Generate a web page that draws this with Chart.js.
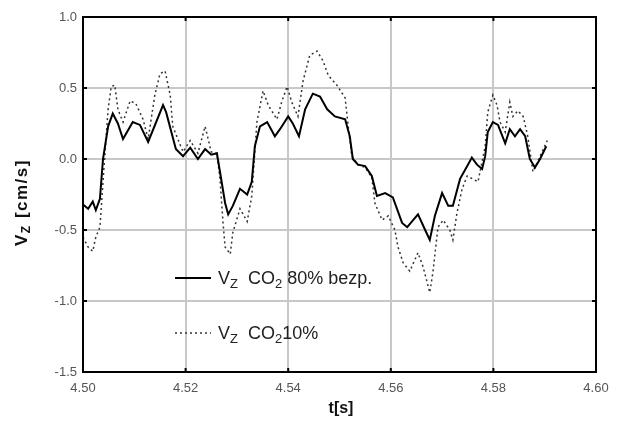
<!DOCTYPE html>
<html>
<head>
<meta charset="utf-8">
<script src="https://cdn.jsdelivr.net/npm/chart.js@4"></script>
<style>
  html, body { margin: 0; padding: 0; background: #fff; }
  #wrap { width: 623px; height: 422px; position: relative; }
</style>
</head>
<body>
<div id="wrap"><canvas id="chart"></canvas></div>
<script>
const tBezp = [4.5000, 4.5010, 4.5019, 4.5025, 4.5033, 4.5039, 4.5049, 4.5058, 4.5068, 4.5078,
  4.5097, 4.5111, 4.5127, 4.5156, 4.5162, 4.5181, 4.5195, 4.5209, 4.5224, 4.5238,
  4.5250, 4.5261, 4.5267, 4.5277, 4.5283, 4.5292, 4.5306, 4.5320, 4.5329, 4.5335,
  4.5345, 4.5359, 4.5374, 4.5384, 4.5400, 4.5409, 4.5421, 4.5433, 4.5448, 4.5462,
  4.5476, 4.5491, 4.5511, 4.5520, 4.5526, 4.5536, 4.5550, 4.5563, 4.5573, 4.5589,
  4.5604, 4.5622, 4.5632, 4.5653, 4.5667, 4.5676, 4.5686, 4.5700, 4.5712, 4.5721,
  4.5735, 4.5749, 4.5758, 4.5768, 4.5778, 4.5784, 4.5789, 4.5799, 4.5809, 4.5823,
  4.5832, 4.5842, 4.5852, 4.5862, 4.5871, 4.5881, 4.5891, 4.5903];
const vzBezp = [-0.32, -0.35, -0.30, -0.36, -0.28, 0.00, 0.23, 0.32, 0.25, 0.14,
  0.26, 0.24, 0.12, 0.38, 0.33, 0.07, 0.02, 0.08, 0.00, 0.07,
  0.03, 0.04, -0.09, -0.31, -0.39, -0.33, -0.21, -0.25, -0.16, 0.09,
  0.23, 0.26, 0.16, 0.21, 0.30, 0.25, 0.16, 0.35, 0.46, 0.44,
  0.35, 0.30, 0.28, 0.16, 0.00, -0.04, -0.05, -0.12, -0.26, -0.24,
  -0.27, -0.45, -0.48, -0.39, -0.50, -0.57, -0.40, -0.24, -0.33, -0.33,
  -0.14, -0.05, 0.01, -0.04, -0.07, 0.02, 0.19, 0.26, 0.24, 0.11,
  0.21, 0.16, 0.21, 0.16, 0.00, -0.06, 0.00, 0.09];

const t10 = [4.5000, 4.5010, 4.5019, 4.5025, 4.5033, 4.5043, 4.5049, 4.5055, 4.5062, 4.5068,
  4.5078, 4.5092, 4.5103, 4.5117, 4.5127, 4.5140, 4.5150, 4.5160, 4.5170, 4.5175,
  4.5195, 4.5209, 4.5224, 4.5238, 4.5250, 4.5261, 4.5267, 4.5273, 4.5277, 4.5287,
  4.5292, 4.5306, 4.5320, 4.5329, 4.5339, 4.5351, 4.5361, 4.5378, 4.5388, 4.5398,
  4.5407, 4.5419, 4.5429, 4.5442, 4.5456, 4.5468, 4.5478, 4.5495, 4.5511, 4.5517,
  4.5524, 4.5536, 4.5550, 4.5563, 4.5569, 4.5583, 4.5595, 4.5608, 4.5614, 4.5624,
  4.5637, 4.5653, 4.5663, 4.5676, 4.5682, 4.5692, 4.5702, 4.5715, 4.5721, 4.5729,
  4.5739, 4.5749, 4.5770, 4.5784, 4.5789, 4.5799, 4.5807, 4.5813, 4.5823, 4.5832,
  4.5838, 4.5848, 4.5858, 4.5867, 4.5877, 4.5891, 4.5905];
const vz10 = [-0.55, -0.62, -0.65, -0.55, -0.48, 0.05, 0.35, 0.51, 0.52, 0.35,
  0.26, 0.41, 0.39, 0.28, 0.14, 0.45, 0.60, 0.62, 0.45, 0.23,
  0.05, 0.13, 0.04, 0.23, 0.05, 0.04, -0.14, -0.45, -0.62, -0.67,
  -0.52, -0.35, -0.44, -0.26, 0.26, 0.48, 0.38, 0.28, 0.41, 0.51,
  0.40, 0.30, 0.55, 0.73, 0.76, 0.69, 0.59, 0.52, 0.43, 0.23,
  0.02, -0.04, -0.06, -0.13, -0.31, -0.43, -0.40, -0.50, -0.62, -0.73,
  -0.79, -0.66, -0.76, -0.94, -0.80, -0.48, -0.43, -0.50, -0.57, -0.38,
  -0.21, -0.12, -0.16, 0.09, 0.33, 0.45, 0.38, 0.26, 0.19, 0.40,
  0.30, 0.34, 0.30, 0.16, -0.09, 0.02, 0.13];

const xTicks = [4.50, 4.52, 4.54, 4.56, 4.58, 4.60];
const yTicks = [-1.5, -1.0, -0.5, 0.0, 0.5, 1.0];

const toPoints = (xs, ys) => xs.map((v, i) => ({ x: v, y: ys[i] }));

// Text mit tiefgestellten Teilen zeichnen: parts = [[text, tief?], ...]
function drawParts(ctx, parts, x, y, size, bold) {
  const w = bold ? 'bold ' : '';
  parts.forEach(([txt, sub]) => {
    const fs = sub ? Math.round(size * 0.72) : size;
    ctx.font = w + fs + 'px "Liberation Sans", Arial, sans-serif';
    ctx.fillText(txt, x, y + (sub ? size * 0.28 : 0));
    x += ctx.measureText(txt).width;
  });
}

const overlay = {
  id: 'overlay',
  afterDraw(chart) {
    const { ctx, chartArea: a, scales: { x, y } } = chart;
    ctx.save();
    // Rahmen
    ctx.strokeStyle = '#000';
    ctx.lineWidth = 2;
    ctx.strokeRect(a.left, a.top, a.right - a.left, a.bottom - a.top);
    // kleine Teilstriche innen
    ctx.beginPath();
    xTicks.forEach(v => {
      const px = x.getPixelForValue(v);
      ctx.moveTo(px, a.top); ctx.lineTo(px, a.top + 4);
      ctx.moveTo(px, a.bottom); ctx.lineTo(px, a.bottom - 4);
    });
    yTicks.forEach(v => {
      const py = y.getPixelForValue(v);
      ctx.moveTo(a.left, py); ctx.lineTo(a.left + 4, py);
      ctx.moveTo(a.right, py); ctx.lineTo(a.right - 4, py);
    });
    ctx.stroke();

    // Legende im Diagramm
    ctx.fillStyle = '#222';
    ctx.textBaseline = 'middle';
    ctx.strokeStyle = '#000';
    ctx.lineWidth = 2;
    ctx.beginPath(); ctx.moveTo(175, 278); ctx.lineTo(211, 278); ctx.stroke();
    drawParts(ctx, [['V', false], ['Z', true], ['  CO', false], ['2', true], [' 80% bezp.', false]], 218, 279, 18, false);

    ctx.strokeStyle = '#333';
    ctx.lineWidth = 1.5;
    ctx.setLineDash([2, 3]);
    ctx.beginPath(); ctx.moveTo(175, 333); ctx.lineTo(211, 333); ctx.stroke();
    ctx.setLineDash([]);
    drawParts(ctx, [['V', false], ['Z', true], ['  CO', false], ['2', true], ['10%', false]], 218, 334, 18, false);

    // Achsentitel
    ctx.fillStyle = '#111';
    ctx.textAlign = 'left';
    ctx.font = 'bold 16px "Liberation Sans", Arial, sans-serif';
    const tw = ctx.measureText('t[s]').width;
    ctx.fillText('t[s]', 341 - tw / 2, 409);

    ctx.translate(22, 200);
    ctx.rotate(-Math.PI / 2);
    ctx.letterSpacing = '1.5px';
    drawParts(ctx, [['V', false], ['Z', true], [' [cm/s]', false]], -46, 0, 17, true);
    ctx.restore();
  }
};

new Chart(document.getElementById('chart'), {
  type: 'line',
  data: {
    datasets: [
      {
        label: 'Vz CO2 80% bezp.',
        data: toPoints(tBezp, vzBezp),
        borderColor: '#000',
        borderWidth: 2,
        pointRadius: 0,
        tension: 0
      },
      {
        label: 'Vz CO2 10%',
        data: toPoints(t10, vz10),
        borderColor: '#333',
        borderWidth: 1.5,
        borderDash: [2, 3],
        pointRadius: 0,
        tension: 0
      }
    ]
  },
  options: {
    responsive: true,
    maintainAspectRatio: false,
    animation: false,
    layout: { padding: { top: 17, right: 27, left: 0, bottom: 0 } },
    plugins: { legend: { display: false }, tooltip: { enabled: false } },
    scales: {
      x: {
        type: 'linear',
        min: 4.50, max: 4.60,
        afterBuildTicks: s => { s.ticks = xTicks.map(v => ({ value: v })); },
        afterFit: s => { s.height = 50; },
        grid: { color: '#c8c8c8', lineWidth: 2, drawTicks: false },
        border: { display: false },
        ticks: {
          padding: 9,
          color: '#555',
          font: { family: '"Liberation Sans", Arial, sans-serif', size: 13 },
          callback: v => v.toFixed(2),
          maxRotation: 0
        }
      },
      y: {
        min: -1.5, max: 1.0,
        afterBuildTicks: s => { s.ticks = yTicks.map(v => ({ value: v })); },
        afterFit: s => { s.width = 83; },
        grid: { color: '#c8c8c8', lineWidth: 2, drawTicks: false },
        border: { display: false },
        ticks: {
          padding: 6,
          color: '#555',
          font: { family: '"Liberation Sans", Arial, sans-serif', size: 13 },
          callback: v => v.toFixed(1)
        }
      }
    }
  },
  plugins: [overlay]
});
</script>
</body>
</html>
